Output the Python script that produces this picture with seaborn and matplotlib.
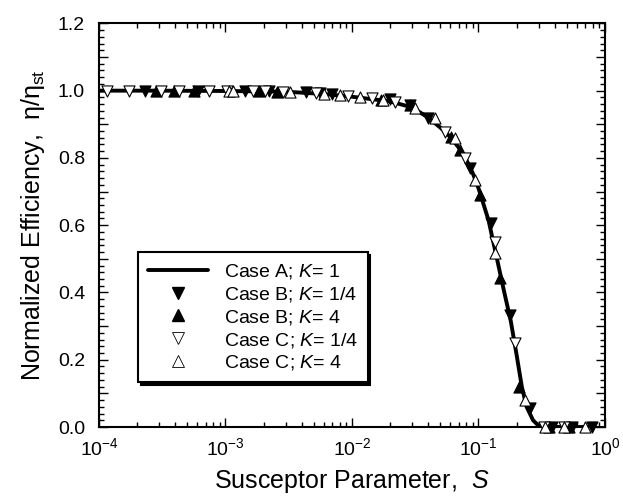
import numpy as np
import pandas as pd
import seaborn as sns
import matplotlib
matplotlib.use("Agg")
import matplotlib.pyplot as plt
from matplotlib.lines import Line2D
from matplotlib.ticker import LogLocator, MultipleLocator, FuncFormatter, LogFormatterSciNotation

# Case A, K = 1 : continuous curve
case_a_s = [1e-4, 3e-4, 1e-3, 3e-3, 6e-3, 1e-2, 2e-2, 3e-2, 4e-2, 5e-2, 6e-2, 7e-2,
            8e-2, 9e-2, 0.10, 0.12, 0.14, 0.16, 0.18, 0.20, 0.22, 0.24, 0.27, 0.30,
            0.33, 0.50, 0.80]
case_a_eta = [1.000, 1.000, 0.999, 0.997, 0.990, 0.982, 0.968, 0.950, 0.920, 0.890,
              0.862, 0.830, 0.795, 0.755, 0.710, 0.615, 0.500, 0.400, 0.315, 0.215,
              0.120, 0.060, 0.020, 0.003, 0.000, 0.000, 0.000]

# Case B, K = 1/4
case_b14_s = [2.3e-4, 6.1e-4, 1.42e-3, 2.2e-3, 4.3e-3, 5.6e-3, 6.9e-3, 2.0e-2,
              2.87e-2, 4.0e-2, 8.6e-2, 0.126, 0.176, 0.254, 0.38, 0.545, 0.785]
case_b14_eta = [1.000, 1.000, 0.999, 0.998, 0.995, 0.993, 0.990, 0.975,
                0.957, 0.918, 0.770, 0.606, 0.333, 0.056, 0.0, 0.0, 0.0]

# Case B, K = 4
case_b4_s = [2.8e-4, 3.9e-4, 5.6e-4, 1.84e-3, 2.57e-3, 1.7e-2, 2.9e-2, 6.1e-2,
             7.1e-2, 0.103, 0.147, 0.209, 0.36, 0.52]
case_b4_eta = [1.000, 1.000, 1.000, 0.998, 0.997, 0.972, 0.957, 0.862,
               0.823, 0.690, 0.443, 0.120, 0.0, 0.0]

# Case C, K = 1/4
case_c14_s = [1.16e-4, 1.73e-4, 3.1e-4, 4.3e-4, 7.4e-4, 1.03e-3, 1.65e-3, 2.05e-3,
              2.86e-3, 5.2e-3, 9.3e-3, 1.44e-2, 2.2e-2, 5.4e-2, 7.8e-2, 0.134,
              0.193, 0.33, 0.47]
case_c14_eta = [1.000, 1.000, 1.000, 1.000, 1.000, 0.999, 0.998, 0.998,
                0.997, 0.993, 0.984, 0.977, 0.966, 0.877, 0.800, 0.551,
                0.250, 0.0, 0.0]

# Case C, K = 4
case_c4_s = [1.06e-3, 1.14e-3, 3.25e-3, 6.0e-3, 8.0e-3, 1.16e-2, 1.76e-2, 3.15e-2,
             4.5e-2, 6.5e-2, 9.4e-2, 0.134, 0.232, 0.333, 0.47, 0.69]
case_c4_eta = [0.999, 0.999, 0.996, 0.990, 0.986, 0.980, 0.972, 0.948,
               0.918, 0.859, 0.734, 0.517, 0.080, 0.0, 0.0, 0.0]

labels = ["Case A; $K$= 1", "Case B; $K$= 1/4", "Case B; $K$= 4",
          "Case C; $K$= 1/4", "Case C; $K$= 4"]

sns.set_theme(style="ticks")
plt.rcParams.update({
    "font.family": ["Liberation Sans", "DejaVu Sans"],
    "mathtext.fontset": "custom",
    "mathtext.rm": "Liberation Sans",
    "mathtext.it": "Liberation Sans:italic",
    "mathtext.bf": "Liberation Sans:bold",
    "axes.edgecolor": "black",
    "axes.linewidth": 1.5,
    "xtick.color": "black",
    "ytick.color": "black",
    "text.color": "black",
    "axes.labelcolor": "black",
})

fig = plt.figure(figsize=(6.23, 5.01), dpi=100)
ax = fig.add_axes([0.1589, 0.1477, 0.8122, 0.8056])

line_df = pd.DataFrame({"S": case_a_s, "eta": case_a_eta})
sns.lineplot(data=line_df, x="S", y="eta", ax=ax, color="black", lw=2.8,
             zorder=2, legend=False)

msize = 64
series = [
    (case_b14_s, case_b14_eta, "v", "black"),
    (case_b4_s, case_b4_eta, "^", "black"),
    (case_c14_s, case_c14_eta, "v", "white"),
    (case_c4_s, case_c4_eta, "^", "white"),
]
for xs, ys, mk, fc in series:
    df = pd.DataFrame({"S": xs, "eta": ys})
    sns.scatterplot(data=df, x="S", y="eta", ax=ax, marker=mk, s=msize,
                    facecolor=fc, edgecolor="black", linewidth=0.8,
                    zorder=3, legend=False, clip_on=False)

ax.set_xscale("log")
ax.set_xlim(1e-4, 1.0)
ax.set_ylim(0.0, 1.2)

ax.xaxis.set_major_locator(LogLocator(base=10, numticks=10))
ax.xaxis.set_minor_locator(LogLocator(base=10, subs=np.arange(2, 10), numticks=20))
ax.xaxis.set_major_formatter(LogFormatterSciNotation())
ax.yaxis.set_major_locator(MultipleLocator(0.1))
ax.yaxis.set_minor_locator(MultipleLocator(0.02))
ax.yaxis.set_major_formatter(FuncFormatter(
    lambda v, p: f"{v:.1f}" if round(v * 10) % 2 == 0 else ""))

ax.tick_params(which="both", direction="in", top=True, right=True,
               width=1.0, labelsize=14)
ax.tick_params(which="major", length=6.5)
ax.tick_params(axis="y", which="major", pad=10)
ax.tick_params(axis="x", which="major", pad=7)
ax.tick_params(which="minor", length=3.5)

ax.set_xlabel("Susceptor Parameter,  $S$", fontsize=18, labelpad=7)
ax.set_ylabel("Normalized Efficiency,  η/η$_{\\rm st}$", fontsize=18,
              labelpad=8)

handles = [
    Line2D([], [], color="black", lw=2.8),
    Line2D([], [], ls="none", marker="v", ms=8, mfc="black", mec="black"),
    Line2D([], [], ls="none", marker="^", ms=8, mfc="black", mec="black"),
    Line2D([], [], ls="none", marker="v", ms=8, mfc="white", mec="black", mew=0.6),
    Line2D([], [], ls="none", marker="^", ms=8, mfc="white", mec="black", mew=0.6),
]
leg = ax.legend(handles, labels, loc="lower left", bbox_to_anchor=(0.077, 0.111),
                borderaxespad=0, fontsize=14, frameon=True, fancybox=False,
                edgecolor="black", framealpha=1, handlelength=3.1,
                handletextpad=0.8, labelspacing=0.2, borderpad=0.5,
                shadow={"color": "black", "alpha": 1, "shade": 0.0})
leg.get_frame().set_linewidth(1.5)

fig.savefig("out.png", dpi=100)
